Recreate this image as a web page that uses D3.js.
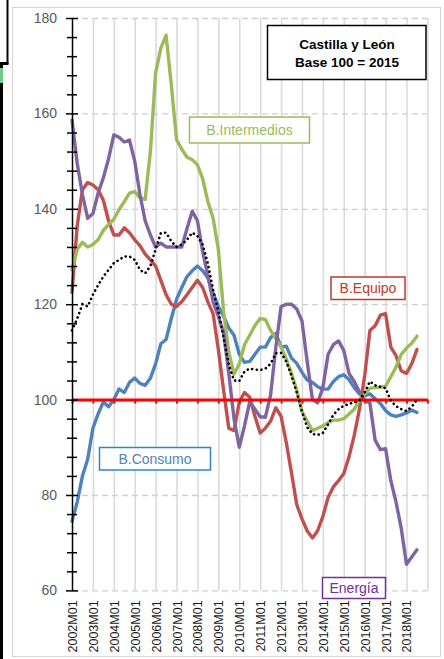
<!DOCTYPE html>
<html>
<head>
<meta charset="utf-8">
<script src="https://cdn.jsdelivr.net/npm/d3@7"></script>
<style>
  html, body { margin: 0; padding: 0; background: #fff; }
  svg { display: block; font-family: "Liberation Sans", Arial, sans-serif; }
</style>
</head>
<body>
<div id="chart"></div>
<script>
// months counted from 2002M01, one reading per quarter (M01, M04, M07, M10)
const quarters = d3.range(0, 199, 3);
const yearLabels = ['2002M01', '2003M01', '2004M01', '2005M01', '2006M01', '2007M01', '2008M01', '2009M01',
  '2010M01', '2011M01', '2012M01', '2013M01', '2014M01', '2015M01', '2016M01', '2017M01', '2018M01'];
const yMajor = [60, 80, 100, 120, 140, 160, 180];

const consumo = [
  74.5, 78.5, 84, 87.5,   94, 97, 99.5, 98.5,   100, 102.2, 101.5, 103.6,   104.5, 103.4, 103, 104.5,
  107.5, 111.7, 112.6, 117,   121, 123.5, 125.8, 127,   128, 127, 125.5, 122.3,   119.5, 117.5, 115, 113.5,
  109.5, 107.8, 108, 109.5,   111, 111, 113, 113.9,   111, 111.2, 108.7, 107.6,   105.7, 104.1, 103.6, 102.7,
  102.2, 102.2, 103.8, 104.8,   105.2, 104.2, 102.5, 101.2,   100.8, 101.2, 100.2, 99.2,   97.7, 96.8, 96.5, 96.8,
  97.2, 97.8, 97.3];
const equipo = [
  122.5, 136.5, 144, 145.5,   145, 144, 141.8, 137.5,   134.5, 134.5, 136, 135,   133.5, 132.3, 130.5, 129.3,
  128, 125, 122, 120,   119.5, 120.5, 122, 123.5,   125, 123.5, 120.5, 118,   110.5, 102, 94, 93.5,
  99.5, 101.5, 100.5, 96.5,   93, 94, 95.5, 98.3,   96.5, 91, 84.6, 78,   75, 72.5, 71, 72.5,
  75.5, 79.5, 81.7, 83,   84.5, 88, 92.5, 98,   105, 114.5, 115.5, 117.7,   118, 111, 109.2, 106,
  105.5, 107.5, 110.5];
const intermedios = [
  127.2, 131.5, 133, 132,   132.5, 133.5, 135.5, 136.7,   137.8, 139.8, 141.5, 143.3,   143.6, 142.3, 142, 152,
  168.5, 173.7, 176.4, 166,   154.5, 152.5, 150.8, 150.3,   149.2, 146.3, 141.5, 138,   131.5, 118.5, 110, 105.3,
  107.5, 111.5, 113.5, 115.5,   117, 116.8, 114.5, 112.8,   111, 108.5, 105.5, 102,   97.5, 95.5, 93.5, 94,
  94.5, 95.2, 95.7, 95.7,   96, 97, 98, 99.8,   101.2, 102.4, 102.5, 102.6,   102.8, 104.8, 106.8, 109.5,
  110.8, 111.8, 113.3];
const energia = [
  158.6, 149.5, 143, 138,   139, 143.3, 146.5, 150.5,   155.5, 155, 154, 154.4,   150, 143, 137.5, 134.5,
  132, 132.8, 132, 132,   132, 132, 135.8, 139.5,   137.5, 131, 126, 120.5,   117.5, 114, 105.5, 96,
  90, 94.5, 99.5, 98,   96.4, 96.3, 101, 111,   119.5, 120, 120, 119,   116.5, 108, 100, 99.3,
  102.5, 109.5, 111.5, 112.3,   110.3, 105.5, 103.8, 101.6,   99.8, 99.3, 91.5, 89.5,   89.7, 83, 78.5, 73,
  65.5, 67, 68.5];
const total = [
  114.5, 117, 120, 119.5,   122, 124, 125.8, 127.2,   128.6, 129.3, 130, 130,   129.3, 127.2, 126.5, 128,
  131.5, 134.9, 135, 133.2,   132, 132.5, 133.5, 135,   134.3, 132.5, 128.5, 123,   118.5, 113, 107.3, 104,
  103.9, 105.9, 106.5, 106.3,   106.2, 106.5, 107.5, 109.7,   109.8, 108, 105, 101.5,   97.5, 94.2, 92.8, 92.6,
  93, 94.8, 96.8, 98,   98.7, 99.1, 99.4, 99.8,   101.5, 103.8, 103, 102.7,   102.4, 99.8, 98.6, 98,
  97.6, 98.5, 100];

const W = 444, H = 659;
const svg = d3.select('#chart').append('svg').attr('width', W).attr('height', H);

// --- page frame bits ---
svg.append('rect').attr('x', 12.5).attr('y', 7.5).attr('width', 428).attr('height', 649)
  .attr('fill', '#fff').attr('stroke', '#d4d4d4').attr('stroke-width', 1);
svg.append('line').attr('x1', 7.5).attr('y1', 0).attr('x2', 7.5).attr('y2', 64).attr('stroke', '#000').attr('stroke-width', 2);
svg.append('line').attr('x1', 0).attr('y1', 63.5).attr('x2', 8.5).attr('y2', 63.5).attr('stroke', '#000').attr('stroke-width', 3);
svg.append('line').attr('x1', 1.5).attr('y1', 63).attr('x2', 1.5).attr('y2', H).attr('stroke', '#000').attr('stroke-width', 3);
svg.append('rect').attr('x', 0).attr('y', 68).attr('width', 3).attr('height', 15).attr('fill', '#74c98b');

// --- scales ---
const x = d3.scaleLinear().domain([0, 204]).range([72, 427.4]);
const y = d3.scaleLinear().domain([60, 180]).range([590.4, 18]);

// vertical year gridlines
svg.append('g')
  .attr('transform', `translate(0,${y(60)})`)
  .call(d3.axisBottom(x).tickValues(d3.range(12, 205, 12)).tickSize(-(y(60) - y(180))).tickFormat(''))
  .call(g => g.select('.domain').remove())
  .call(g => g.selectAll('.tick line').attr('stroke', '#d9d9d9').attr('stroke-width', 1.5));

// horizontal dashed gridlines
svg.append('g')
  .attr('transform', `translate(${x(0)},0)`)
  .call(d3.axisLeft(y).tickValues(yMajor.filter(v => v !== 100)).tickSize(-(x(204) - x(0))).tickFormat(''))
  .call(g => g.select('.domain').remove())
  .call(g => g.selectAll('.tick line').attr('stroke', '#d0d0d0').attr('stroke-width', 1.3).attr('stroke-dasharray', '6,4'));

// x labels
svg.append('g')
  .attr('transform', `translate(0,${y(60)})`)
  .call(d3.axisBottom(x).tickValues(d3.range(0, 193, 12)).tickSize(0).tickFormat((d, i) => yearLabels[i]))
  .call(g => g.select('.domain').remove())
  .call(g => g.selectAll('.tick text')
    .attr('transform', 'rotate(-90)')
    .attr('text-anchor', 'end')
    .attr('x', -10).attr('y', 0).attr('dy', '0.36em')
    .attr('fill', '#1a1a1a')
    .style('font-size', '12.5px')
    .style('font-family', '"Liberation Sans", Arial, sans-serif'));

// --- series ---
const line = d3.line().x((d, i) => x(quarters[i])).y(d => y(d));
const series = [
  { values: consumo, color: '#4F81BD' },
  { values: equipo, color: '#C0504D' },
  { values: intermedios, color: '#9BBB59' },
  { values: energia, color: '#8064A2' }
];
series.forEach(s => {
  svg.append('path').datum(s.values).attr('d', line)
    .attr('fill', 'none').attr('stroke', s.color).attr('stroke-width', 3.4)
    .attr('stroke-linejoin', 'round').attr('stroke-linecap', 'round');
});

// red base-100 axis with year ticks
svg.append('g')
  .attr('transform', `translate(0,${y(100)})`)
  .call(d3.axisBottom(x).tickValues(d3.range(0, 205, 12)).tickSize(4).tickSizeOuter(0).tickFormat(''))
  .call(g => g.select('.domain').attr('stroke', '#FF0000').attr('stroke-width', 3))
  .call(g => g.selectAll('.tick line').attr('stroke', '#FF0000').attr('stroke-width', 2));

// y axis, ticks crossing the line
svg.append('g')
  .attr('transform', `translate(${x(0)},0)`)
  .call(d3.axisLeft(y).tickValues(d3.range(60, 181, 4)).tickSize(5).tickSizeOuter(0).tickPadding(10)
    .tickFormat(d => d % 20 === 0 ? d : ''))
  .call(g => g.select('.domain').attr('stroke', '#000').attr('stroke-width', 1.5))
  .call(g => g.selectAll('.tick line').attr('stroke', '#000').attr('stroke-width', 1.5)
    .attr('x1', d => d % 20 === 0 ? 6 : 5).attr('x2', d => d % 20 === 0 ? -6 : -5))
  .call(g => g.selectAll('.tick text').attr('fill', '#595959')
    .style('font-size', '14px').style('font-family', '"Liberation Sans", Arial, sans-serif'));

// dotted total
svg.append('path').datum(total).attr('d', line)
  .attr('fill', 'none').attr('stroke', '#000').attr('stroke-width', 2.6)
  .attr('stroke-dasharray', '0.1,4.6').attr('stroke-linecap', 'round');

// --- labelled boxes ---
const notes = [
  { text: 'B.Intermedios', x: 189.5, y: 117, w: 120, h: 26, color: '#9BBB59', border: '#9BBB59' },
  { text: 'B.Equipo', x: 331, y: 277, w: 74, h: 22.5, color: '#C0392B', border: '#C0392B' },
  { text: 'B.Consumo', x: 99.5, y: 447.5, w: 111, h: 22.5, color: '#4F81BD', border: '#2E86C8' },
  { text: 'Energía', x: 322.5, y: 577.5, w: 63, h: 21, color: '#7030A0', border: '#7030A0' }
];
notes.forEach(n => {
  svg.append('rect').attr('x', n.x).attr('y', n.y).attr('width', n.w).attr('height', n.h)
    .attr('fill', '#fff').attr('stroke', n.border).attr('stroke-width', 1.5);
  svg.append('text').attr('x', n.x + n.w / 2).attr('y', n.y + n.h / 2).attr('dy', '0.36em')
    .attr('text-anchor', 'middle').attr('fill', n.color).style('font-size', '14px').text(n.text);
});

const title = svg.append('g');
title.append('rect').attr('x', 267.5).attr('y', 25.5).attr('width', 158.5).attr('height', 54)
  .attr('fill', '#fff').attr('stroke', '#000').attr('stroke-width', 1.5);
title.append('text').attr('x', 347).attr('y', 49).attr('text-anchor', 'middle')
  .style('font-size', '13.5px').style('font-weight', 'bold').text('Castilla y León');
title.append('text').attr('x', 347).attr('y', 67).attr('text-anchor', 'middle')
  .style('font-size', '13.5px').style('font-weight', 'bold').text('Base 100 = 2015');
</script>
</body>
</html>
